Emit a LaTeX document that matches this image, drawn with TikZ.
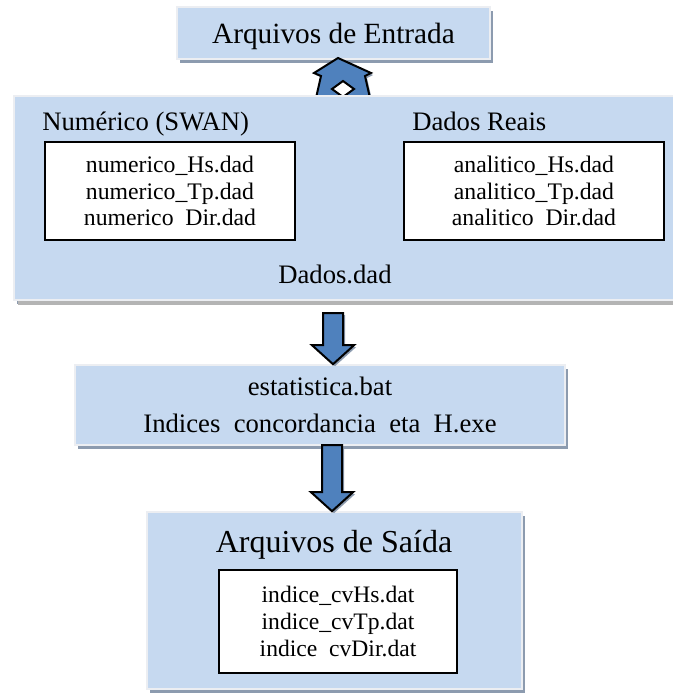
\documentclass[tikz,border=0pt]{standalone}
\usepackage{fontspec}
\setmainfont{Liberation Serif}
\usetikzlibrary{shadows,calc}
\definecolor{boxblue}{RGB}{198,217,240}
\definecolor{arrowblue}{RGB}{79,129,189}
\definecolor{shadowblue}{RGB}{140,155,175}
\definecolor{shadowgrey}{RGB}{180,180,180}
\definecolor{boxedge}{RGB}{236,238,242}
\def\px{0.75pt}
\newcommand\flowArrow[2]{%
  \draw[blockArrow] let \p1=(#1), \p2=(#2) in
    (\x1-7.5pt,\y1) -- (\x1+7.5pt,\y1) -- (\x1+7.5pt,\y2+14.25pt) -- (\x1+15.75pt,\y2+14.25pt)
    -- (\x1,\y2) -- (\x1-15.75pt,\y2+14.25pt) -- (\x1-7.5pt,\y2+14.25pt) -- cycle;}
\begin{document}
\begin{tikzpicture}[x=\px,y=-\px]
\tikzset{
    flowBox/.style={rectangle,fill=boxblue,draw=boxedge,line width=1.2pt,inner sep=0pt,align=center,
        drop shadow={shadow xshift=3*\px,shadow yshift=-4*\px,fill=shadowblue,opacity=1}},
    flowList/.style={rectangle,fill=white,draw=black,line width=1.6pt,inner sep=0pt,align=center,
        font=\fontsize{17.8}{20}\selectfont},
    flowHead/.style={inner sep=0pt,anchor=base,font=\fontsize{20}{24}\selectfont},
    blockArrow/.style={fill=arrowblue,draw=black,line width=1.5pt,line join=miter,
        drop shadow={shadow xshift=2*\px,shadow yshift=-2*\px,fill=shadowblue,opacity=1}},
}
\useasboundingbox (0,0) rectangle (672,693);

% entrada
\node[flowBox,minimum width=313*\px,minimum height=52*\px,text depth=0pt,
    font=\fontsize{22}{26}\selectfont] (entrada) at (333.5,33) {Arquivos de Entrada};
\draw[blockArrow] (338,58) -- (371,73) -- (365,76) -- (370,98) -- (316,98) -- (321,76) -- (314,73) -- cycle;
\draw[fill=white,draw=black,line width=1.5pt,line join=miter] (343,81) -- (354,89) -- (343,97) -- (332,89) -- cycle;

% dados
\node[flowBox,minimum width=666*\px,minimum height=204*\px,
    drop shadow={shadow xshift=4*\px,shadow yshift=-5*\px,fill=shadowgrey,opacity=1}] (dados) at (347,198) {};
\node[flowHead,anchor=base west] (numTxt) at (42,130) {Numérico (SWAN)};
\node[flowHead,anchor=base west] (realTxt) at (412,130) {Dados Reais};
\node[flowList,minimum width=250*\px,minimum height=98*\px] (numList) at (170,191)
    {numerico\_Hs.dad\\numerico\_Tp.dad\\numerico\hphantom{\_}Dir.dad};
\node[flowList,minimum width=260*\px,minimum height=98*\px] (realList) at (534,191)
    {analitico\_Hs.dad\\analitico\_Tp.dad\\analitico\hphantom{\_}Dir.dad};
\node[flowHead] (dadosTxt) at (335,283) {Dados.dad};

% executavel
\node[flowBox,minimum width=490*\px,minimum height=80*\px,font=\fontsize{20}{27.75}\selectfont] (exec) at (320,405)
    {estatistica.bat\\Indices\hphantom{\_}concordancia\hphantom{\_}eta\hphantom{\_}H.exe};

% saida
\node[flowBox,minimum width=375*\px,minimum height=177*\px] (saida) at (334.5,600.5) {};
\node[flowHead,font=\fontsize{24}{28}\selectfont] (saidaTxt) at (334,552) {Arquivos de Saída};
\node[flowList,minimum width=238*\px,minimum height=103*\px,font=\fontsize{17.7}{20.6}\selectfont] (saidaList) at (338,621.5)
    {indice\_cvHs.dat\\indice\_cvTp.dat\\indice\hphantom{\_}cvDir.dat};

% setas
\coordinate (a1) at (333,313);
\coordinate (a2) at (332,445);
\flowArrow{a1}{a1 |- exec.north}
\flowArrow{a2}{a2 |- saida.north}
\end{tikzpicture}
\end{document}
